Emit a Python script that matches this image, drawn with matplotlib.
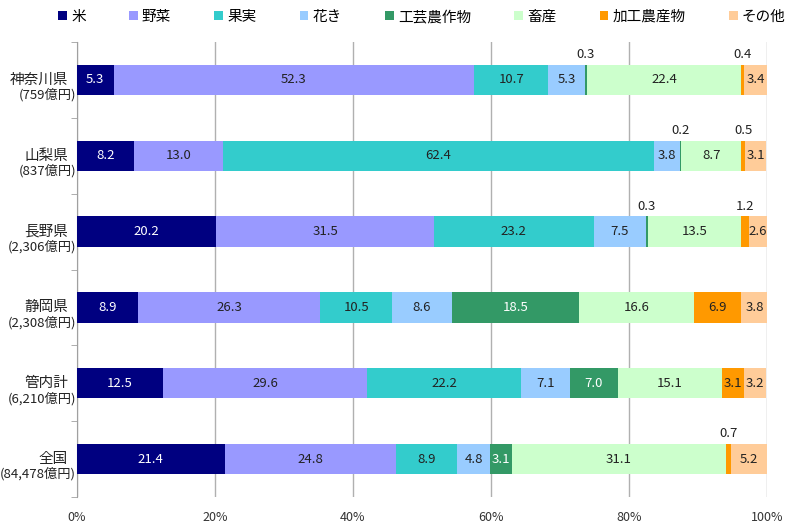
import matplotlib
matplotlib.use("Agg")
import matplotlib.pyplot as plt
from matplotlib.patches import Patch
import numpy as np

plt.rcParams['font.family'] = ['Noto Sans CJK JP', 'DejaVu Sans']

regions = ["神奈川県", "山梨県", "長野県", "静岡県", "管内計", "全国"]
totals = ["(759億円)", "(837億円)", "(2,306億円)", "(2,308億円)", "(6,210億円)", "(84,478億円)"]
categories = ["米", "野菜", "果実", "花き", "工芸農作物", "畜産", "加工農産物", "その他"]
colors = ["#000080", "#9999FF", "#33CCCC", "#99CCFF", "#339966", "#CCFFCC", "#FF9900", "#FFCC99"]
text_colors = ["white", "#222222", "#222222", "#222222", "white", "#222222", "#222222", "#222222"]

rice = [5.3, 8.2, 20.2, 8.9, 12.5, 21.4]
vegetables = [52.3, 13.0, 31.5, 26.3, 29.6, 24.8]
fruit = [10.7, 62.4, 23.2, 10.5, 22.2, 8.9]
flowers = [5.3, 3.8, 7.5, 8.6, 7.1, 4.8]
industrial = [0.3, 0.2, 0.3, 18.5, 7.0, 3.1]
livestock = [22.4, 8.7, 13.5, 16.6, 15.1, 31.1]
processed = [0.4, 0.5, 1.2, 6.9, 3.1, 0.7]
other = [3.4, 3.1, 2.6, 3.8, 3.2, 5.2]

series = [rice, vegetables, fruit, flowers, industrial, livestock, processed, other]
small_threshold = 2.0

fig = plt.figure(figsize=(8, 5.32), dpi=100)
ax = fig.add_axes([77/800, 1-497/532, 690/800, 455/532])

y = np.arange(len(regions))
bar_h = 0.4
left = np.zeros(len(regions))
for vals, col, tc in zip(series, colors, text_colors):
    vals = np.array(vals)
    ax.barh(y, vals, left=left, height=bar_h, color=col, edgecolor='none', zorder=3)
    for i, v in enumerate(vals):
        cx = left[i] + v / 2
        if v < small_threshold:
            ax.text(cx, y[i] - bar_h/2 - 0.05, f"{v:.1f}", ha='center', va='bottom',
                    fontsize=9.5, color='#222222', zorder=4)
        else:
            ax.text(cx, y[i], f"{v:.1f}", ha='center', va='center',
                    fontsize=9.5, color=tc, zorder=4)
    left = left + vals

ax.set_xlim(0, 100)
ax.set_ylim(len(regions) - 0.5, -0.5)
ax.set_xticks([0, 20, 40, 60, 80, 100])
ax.set_xticklabels(["0%", "20%", "40%", "60%", "80%", "100%"], fontsize=9, color='#333333')
ax.tick_params(axis='x', length=0, pad=10)
ax.xaxis.grid(True, color='#B0B0B0', linewidth=1, zorder=0)

ax.set_yticks([])
ax.set_yticks(np.arange(len(regions) + 1) - 0.5, minor=True)
ax.tick_params(axis='y', which='minor', length=4, direction='out', color='#A0A0A0')
ax.yaxis.set_minor_formatter(matplotlib.ticker.NullFormatter())

for s in ['top', 'right', 'bottom']:
    ax.spines[s].set_visible(False)
ax.spines['left'].set_color('#A0A0A0')

trans = matplotlib.transforms.blended_transform_factory(fig.transFigure, ax.transData)
for i, (r, t) in enumerate(zip(regions, totals)):
    ax.text(68/800, y[i] + 0.09, r, transform=trans, ha='right', va='bottom',
            fontsize=10.5, color='#222222')
    ax.text(76/800, y[i] + 0.11, t, transform=trans, ha='right', va='top',
            fontsize=9.5, color='#222222')

handles = [Patch(facecolor=c, edgecolor='none') for c in colors]
fig.legend(handles, categories, loc='center left', bbox_to_anchor=(58/800, 1-17/532), ncol=8,
           frameon=False, handlelength=0.6, handleheight=0.6, handletextpad=0.3,
           columnspacing=2.95, fontsize=10.5, borderpad=0, borderaxespad=0)

fig.savefig("out.png", dpi=100)
